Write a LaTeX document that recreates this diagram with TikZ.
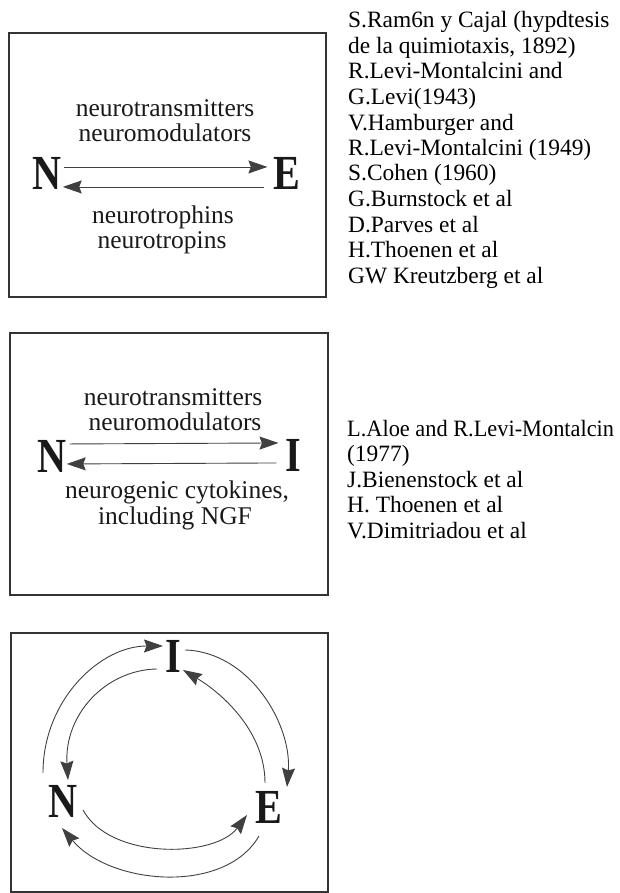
\documentclass[tikz,border=0pt]{standalone}
\usepackage{fontspec}
\setmainfont{Liberation Serif}
\usetikzlibrary{arrows.meta,calc}
\begin{document}
\begin{tikzpicture}[x=1pt,y=-1pt,
  frame/.style={draw=black!80, line width=1.3pt},
  lbl/.style={inner sep=0pt, anchor=base, text=black!90, font=\fontsize{25.5}{25}\selectfont},
  big/.style={inner sep=0pt, anchor=base, text=black!90, font=\fontsize{49}{49}\selectfont\bfseries},
  refs/.style={inner sep=0pt, anchor=base west, align=left, font=\fontsize{23.4}{25.5}\selectfont},
  arr/.style={draw=black!75, line width=0.9pt, -{Stealth[length=19pt,width=13pt,inset=2.5pt]}},
]
\useasboundingbox (0,0) rectangle (620,893);

% ---------- box 1 ----------
\draw[frame] (9,33) rectangle (326,297);
\node[lbl] (t1) at (165,117) {neurotransmitters};
\node[lbl] (t2) at (165,142) {neuromodulators};
\node[lbl] (t3) at (163,223) {neurotrophins};
\node[lbl] (t4) at (162,248) {neurotropins};
\node[big] (N1) at (47,190) {\scalebox{0.82}[1]{N}};
\node[big] (E1) at (287,190) {\scalebox{0.82}[1]{E}};
\draw[arr] ($(N1.east)+(2,-7)$) -- ($(E1.west)+(-6,-7)$);
\draw[arr] ($(E1.west)+(-9,13)$) -- ($(N1.east)+(1,13)$);

% ---------- box 2 ----------
\draw[frame] (10,333) rectangle (328,595);
\node[lbl] (u1) at (173,405) {neurotransmitters};
\node[lbl] (u2) at (175,430) {neuromodulators};
\node[lbl] (u3) at (177,498) {neurogenic cytokines,};
\node[lbl] (u4) at (175,524) {including NGF};
\node[big] (N2) at (52,472) {\scalebox{0.82}[1]{N}};
\node[big] (I2) at (293.5,471) {\scalebox{0.82}[1]{I}};
\draw[arr] ($(N2.east)+(3,-12)$) -- ($(I2.west)+(-7,-12)$);
\draw[arr] ($(I2.west)+(-9,8)$) -- ($(N2.east)+(0,8)$);

% ---------- box 3 ----------
\draw[frame] (11,633) rectangle (328,892);
\node[big] (N3) at (63,817) {\scalebox{0.82}[1]{N}};
\node[big] (I3) at (173.5,672) {\scalebox{0.82}[1]{I}};
\node[big] (E3) at (269,823) {\scalebox{0.82}[1]{E}};
\coordinate (a1) at ($(N3.center)+(-20,-28)$);
\coordinate (b1) at ($(I3.center)+(-10.5,-10)$);
\coordinate (c1) at ($(I3.center)+(11.5,-6)$);
\coordinate (d1) at ($(E3.center)+(18,-20)$);
\coordinate (c2) at ($(E3.center)+(-4,-24)$);
\coordinate (d2) at ($(I3.center)+(9.5,14)$);
\coordinate (a2) at ($(I3.center)+(-16.5,13)$);
\coordinate (b2) at ($(N3.center)+(5,-21)$);
\coordinate (a3) at ($(N3.center)+(20,9)$);
\coordinate (b3) at ($(E3.center)+(-22,8)$);
\coordinate (c3) at ($(E3.center)+(-10,29)$);
\coordinate (d3) at ($(N3.center)+(-1,27)$);
\draw[arr] (a1) .. controls (43,700) and (100,646) .. (b1);
\draw[arr] (c1) .. controls (250,652) and (292,725) .. (d1);
\draw[arr] (c2) .. controls (265,730) and (220,692) .. (d2);
\draw[arr] (a2) .. controls (105,670) and (64,715) .. (b2);
\draw[arr] (a3) .. controls (110,860) and (215,858) .. (b3);
\draw[arr] (c3) .. controls (225,895) and (110,885) .. (d3);

% ---------- reference lists (anchored at the baseline of their last line) ----------
\node[refs] (r1) at (348,283) {S.Ram6n y Cajal (hypdtesis\\de la quimiotaxis, 1892)\\R.Levi-Montalcini and\\G.Levi(1943)\\V.Hamburger and\\R.Levi-Montalcini (1949)\\S.Cohen (1960)\\G.Burnstock et al\\D.Parves et al\\H.Thoenen et al\\GW Kreutzberg et al};
\node[refs] (r2) at (347,538) {\scalebox{0.955}[1]{L.Aloe and R.Levi-Montalcin}\\(1977)\\J.Bienenstock et al\\H. Thoenen et al\\V.Dimitriadou et al};
\end{tikzpicture}
\end{document}
